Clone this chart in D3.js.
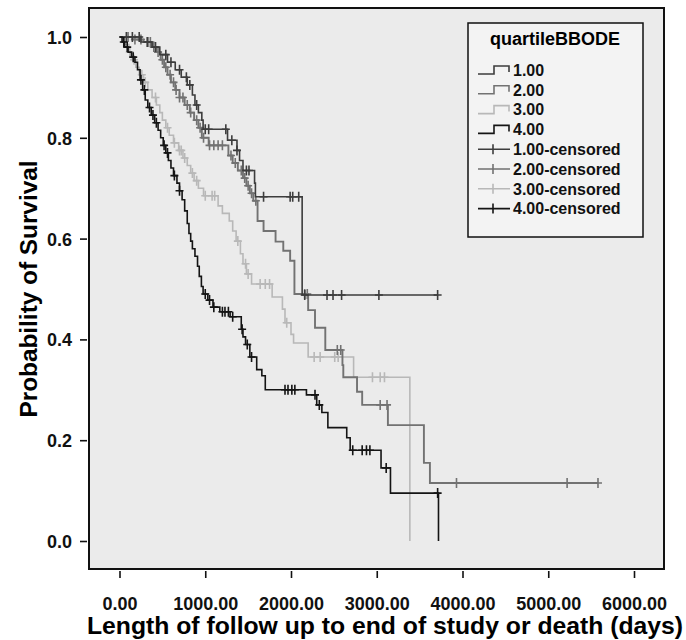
<!DOCTYPE html>
<html>
<head>
<meta charset="utf-8">
<script src="https://cdn.jsdelivr.net/npm/d3@7"></script>
<style>
  body { margin: 0; background: #fff; }
  svg { font-family: "Liberation Sans", Arial, sans-serif; }
</style>
</head>
<body>
<svg id="chart" width="686" height="640"></svg>
<script>
// Kaplan-Meier survival by quartile of BBODE
const groups = ["1.00", "2.00", "3.00", "4.00"];
const xTicks = [0, 1000, 2000, 3000, 4000, 5000, 6000];
const yTicks = [0, 0.2, 0.4, 0.6, 0.8, 1.0];

// group 1
const g1Times = [0, 250, 380, 470, 560, 650, 720, 790, 850, 880, 920, 960, 975, 1260, 1370, 1400, 1440, 1575, 1585, 2130];
const g1Surv  = [1, 0.99, 0.98, 0.965, 0.95, 0.935, 0.92, 0.905, 0.885, 0.865, 0.85, 0.835, 0.817, 0.795, 0.775, 0.755, 0.735, 0.71, 0.683, 0.488];
const g1Cens  = [80, 150, 230, 330, 420, 540, 600, 700, 780, 820, 900, 1000, 1040, 1240, 1310, 1370, 1480, 1510, 1680, 1990, 2020, 2090, 2160, 2420, 2490, 2590, 3025, 3710];

// group 2
const g2Times = [0, 150, 280, 380, 430, 480, 520, 560, 600, 650, 700, 760, 820, 870, 920, 960, 1040, 1270, 1320, 1380, 1440, 1480, 1520, 1560, 1610, 1680, 1820, 1910, 1990, 2040, 2200, 2280, 2400, 2600, 2610, 2770, 2830, 3130, 3550, 3620];
const g2Surv  = [1, 0.995, 0.99, 0.98, 0.97, 0.955, 0.94, 0.925, 0.91, 0.895, 0.88, 0.865, 0.85, 0.835, 0.82, 0.8, 0.785, 0.765, 0.75, 0.735, 0.72, 0.705, 0.69, 0.675, 0.635, 0.615, 0.594, 0.576, 0.556, 0.49, 0.458, 0.423, 0.379, 0.349, 0.325, 0.296, 0.27, 0.23, 0.155, 0.115];
const g2Cens  = [100, 180, 250, 320, 360, 400, 450, 500, 540, 590, 630, 660, 700, 740, 790, 830, 900, 940, 980, 1050, 1100, 1150, 1200, 1300, 1350, 1420, 1460, 1500, 1540, 1590, 2160, 2190, 2540, 2580, 3040, 3120, 3930, 5220, 5580];

// group 3
const g3Times = [0, 60, 110, 150, 190, 230, 280, 330, 380, 430, 470, 500, 540, 580, 630, 690, 740, 790, 830, 870, 920, 980, 1150, 1200, 1280, 1320, 1360, 1410, 1440, 1480, 1540, 1780, 1900, 1930, 2000, 2030, 2200, 2730, 3386];
const g3Surv  = [1, 0.985, 0.97, 0.955, 0.94, 0.925, 0.91, 0.895, 0.88, 0.865, 0.85, 0.835, 0.82, 0.805, 0.79, 0.775, 0.76, 0.745, 0.73, 0.715, 0.7, 0.685, 0.665, 0.65, 0.635, 0.615, 0.595, 0.57, 0.55, 0.53, 0.51, 0.484, 0.46, 0.433, 0.41, 0.393, 0.365, 0.325, 0];
const g3Cens  = [120, 170, 260, 300, 420, 560, 640, 700, 720, 760, 850, 900, 1000, 1080, 1110, 1380, 1470, 1500, 1640, 1700, 1750, 1950, 2270, 2340, 2510, 2550, 2950, 3040, 3090];

// group 4
const g4Times = [0, 30, 60, 100, 140, 180, 210, 240, 270, 300, 330, 370, 410, 450, 480, 510, 540, 570, 600, 630, 670, 700, 730, 760, 790, 810, 830, 850, 880, 910, 930, 955, 975, 1030, 1090, 1170, 1290, 1420, 1440, 1470, 1520, 1600, 1660, 1700, 2180, 2300, 2360, 2430, 2650, 2690, 3050, 3160, 3720];
const g4Surv  = [1, 0.99, 0.98, 0.97, 0.96, 0.95, 0.935, 0.915, 0.895, 0.875, 0.86, 0.845, 0.83, 0.815, 0.8, 0.785, 0.77, 0.755, 0.74, 0.725, 0.71, 0.695, 0.677, 0.655, 0.63, 0.61, 0.595, 0.58, 0.565, 0.545, 0.525, 0.505, 0.49, 0.478, 0.464, 0.455, 0.445, 0.42, 0.405, 0.39, 0.365, 0.34, 0.328, 0.3, 0.29, 0.27, 0.255, 0.225, 0.205, 0.18, 0.145, 0.095, 0];
const g4Cens  = [50, 90, 160, 250, 290, 350, 390, 430, 520, 560, 640, 700, 1000, 1050, 1100, 1200, 1230, 1270, 1320, 1430, 1490, 1540, 1930, 1965, 2010, 2045, 2280, 2330, 2720, 2830, 2880, 2920, 3110, 3710];

const groupEnd = [3710, 5580, 3386, 3720];
const colors = ["#3d3d3d", "#727272", "#b8b8b8", "#141414"];

const series = [
  { times: g1Times, surv: g1Surv, cens: g1Cens },
  { times: g2Times, surv: g2Surv, cens: g2Cens },
  { times: g3Times, surv: g3Surv, cens: g3Cens },
  { times: g4Times, surv: g4Surv, cens: g4Cens }
].map((s, i) => ({ ...s, name: groups[i], color: colors[i], end: groupEnd[i] }));

const frame = { left: 89, top: 8, right: 664, bottom: 569 };

const svg = d3.select("#chart");

const x = d3.scaleLinear().domain([0, 6000]).range([119.5, 634]);
const y = d3.scaleLinear().domain([0, 1]).range([541, 37]);

// plot background
svg.append("rect")
  .attr("x", frame.left).attr("y", frame.top)
  .attr("width", frame.right - frame.left).attr("height", frame.bottom - frame.top)
  .attr("fill", "#ebebeb");

// step value at time t
function survAt(s, t) {
  const i = d3.bisectRight(s.times, t) - 1;
  return s.surv[Math.max(0, i)];
}

const line = d3.line()
  .x(d => x(d[0]))
  .y(d => y(d[1]))
  .curve(d3.curveStepAfter);

// draw light first so darker curves sit on top
const drawOrder = [2, 1, 0, 3];
drawOrder.forEach(i => {
  const s = series[i];
  const pts = s.times.map((t, k) => [t, s.surv[k]]);
  if (s.end > s.times[s.times.length - 1]) pts.push([s.end, s.surv[s.surv.length - 1]]);

  svg.append("path")
    .datum(pts)
    .attr("d", line)
    .attr("fill", "none")
    .attr("stroke", s.color)
    .attr("stroke-width", i === 1 ? 1.9 : 1.6);

  svg.append("g").selectAll("path")
    .data(s.cens)
    .enter().append("path")
    .attr("d", t => {
      const cx = x(t), cy = y(survAt(s, t));
      return `M${cx - 4},${cy}H${cx + 4}M${cx},${cy - 5}V${cy + 5}`;
    })
    .attr("stroke", s.color)
    .attr("stroke-width", 1.6)
    .attr("fill", "none");
});

// frame
svg.append("rect")
  .attr("x", frame.left).attr("y", frame.top)
  .attr("width", frame.right - frame.left).attr("height", frame.bottom - frame.top)
  .attr("fill", "none")
  .attr("stroke", "#111")
  .attr("stroke-width", 2);

// axes
const xAxis = svg.append("g")
  .attr("transform", `translate(0,${frame.bottom + 2})`)
  .call(d3.axisBottom(x).tickValues(xTicks).tickFormat(d3.format(".2f")).tickSize(7).tickPadding(19));
const yAxis = svg.append("g")
  .attr("transform", `translate(${frame.left - 2},0)`)
  .call(d3.axisLeft(y).tickValues(yTicks).tickFormat(d3.format(".1f")).tickSize(7).tickPadding(8));

[xAxis, yAxis].forEach(a => {
  a.select(".domain").remove();
  a.selectAll(".tick line").attr("stroke", "#111").attr("stroke-width", 1.6);
  a.selectAll(".tick text")
    .attr("fill", "#111")
    .style("font-size", "18px")
    .style("font-weight", "bold")
    .style("font-family", "'Liberation Sans', Arial, sans-serif");
});
yAxis.selectAll(".tick text").attr("dy", "0.36em");

// axis titles
svg.append("text")
  .attr("x", 385).attr("y", 634)
  .attr("text-anchor", "middle")
  .style("font-size", "23px").style("font-weight", "bold")
  .attr("textLength", 596).attr("lengthAdjust", "spacingAndGlyphs")
  .text("Length of follow up to end of study or death (days)");

svg.append("text")
  .attr("transform", "translate(37,289) rotate(-90)")
  .attr("text-anchor", "middle")
  .style("font-size", "23px").style("font-weight", "bold")
  .attr("textLength", 257).attr("lengthAdjust", "spacingAndGlyphs")
  .text("Probability of Survival");

// legend
const legend = svg.append("g").attr("transform", "translate(468,23)");
legend.append("rect")
  .attr("width", 175).attr("height", 214)
  .attr("fill", "#f3f3f3")
  .attr("stroke", "#111").attr("stroke-width", 1.5);
legend.append("text")
  .attr("x", 87).attr("y", 22)
  .attr("text-anchor", "middle")
  .style("font-size", "18px").style("font-weight", "bold")
  .text("quartileBBODE");

const rowY = i => 47 + i * 19.8;
const legendItems = series.map((s, i) => ({ label: s.name, color: s.color, censored: false, i }))
  .concat(series.map((s, i) => ({ label: s.name + "-censored", color: s.color, censored: true, i: i + 4 })));

const rows = legend.selectAll("g.row")
  .data(legendItems)
  .enter().append("g")
  .attr("class", "row")
  .attr("transform", d => `translate(0,${rowY(d.i)})`);

rows.append("path")
  .attr("d", d => d.censored
    ? "M10,0H42M25,-5V5"
    : "M10,4H26V-4H41V2")
  .attr("fill", "none")
  .attr("stroke", d => d.color)
  .attr("stroke-width", 1.6);

rows.append("text")
  .attr("x", 45).attr("y", 0).attr("dy", "0.36em")
  .style("font-size", "16px").style("font-weight", "bold")
  .attr("fill", "#111")
  .text(d => d.label);
</script>
</body>
</html>
